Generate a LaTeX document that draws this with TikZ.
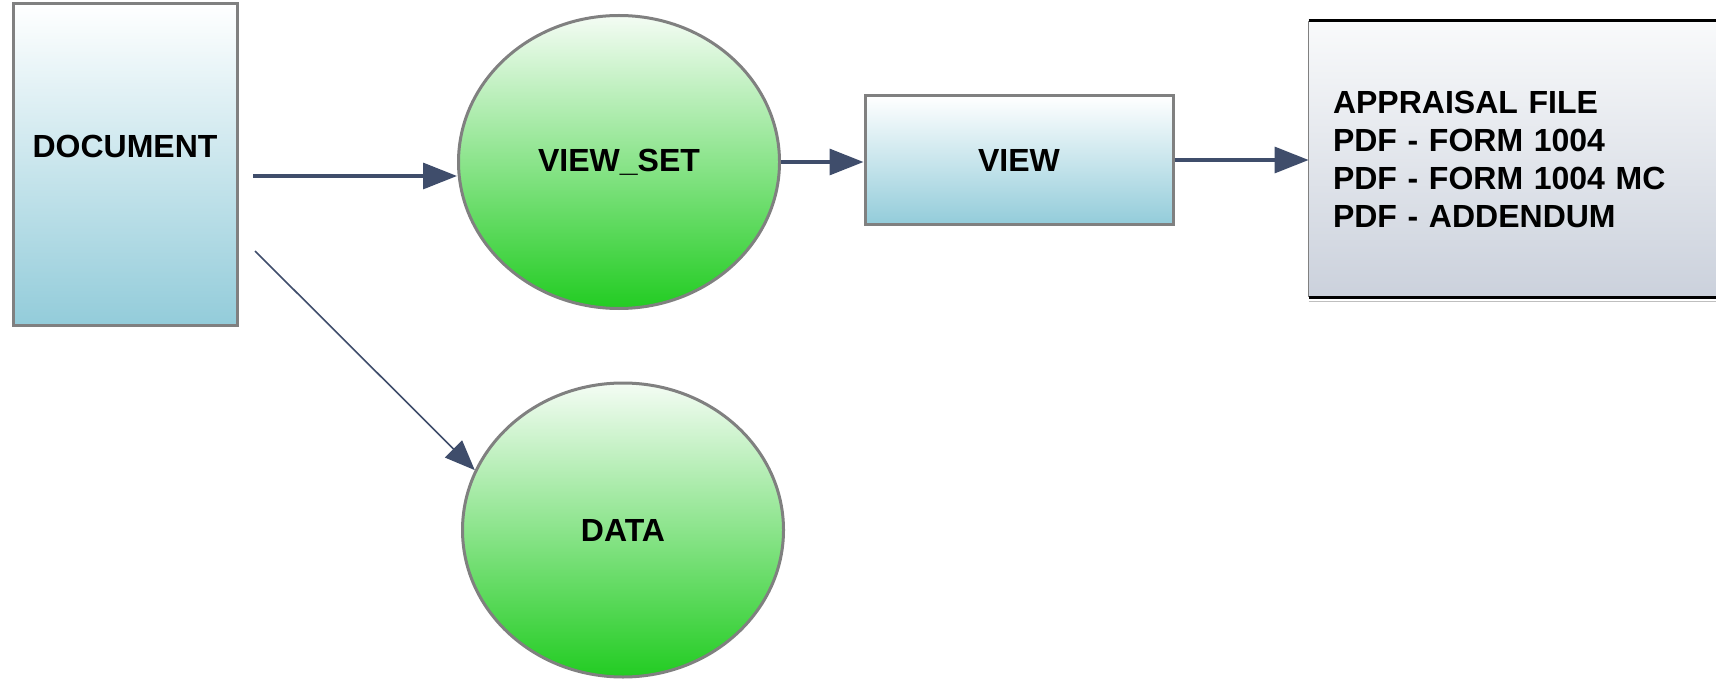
\documentclass[tikz,border=0pt]{standalone}
\usepackage{fontspec}
\setmainfont{Liberation Sans}
\usetikzlibrary{arrows.meta,shapes.geometric}
\definecolor{frame}{HTML}{808080}
\definecolor{arrowc}{HTML}{3F4D6B}
\definecolor{bluebot}{HTML}{93CCDA}
\definecolor{greentop}{HTML}{F4FCF4}
\definecolor{greenbot}{HTML}{22CC22}
\definecolor{greytop}{HTML}{F9FAFB}
\definecolor{greybot}{HTML}{CBD1DC}
\tikzset{
  lbl/.style={font=\fontsize{16}{19}\selectfont\bfseries, text=black},
  bluebox/.style={rectangle, draw=frame, line width=1.5pt, top color=white, bottom color=bluebot, inner sep=0pt, lbl},
  greenball/.style={ellipse, draw=frame, line width=1.5pt, top color=greentop, bottom color=greenbot, inner sep=0pt, lbl},
  store/.style={rectangle, top color=greytop, bottom color=greybot, inner xsep=12pt, inner ysep=0pt, align=left, lbl},
  flow/.style={draw=arrowc, line width=1.6pt, -{Triangle[length=17pt,width=13pt]}},
  thinflow/.style={draw=arrowc, line width=0.8pt, -{Triangle[length=15pt,width=12pt]}}
}
\begin{document}
\begin{tikzpicture}[x=0.5pt, y=-0.5pt]
  \useasboundingbox (0,0) rectangle (1716,679);

  % process boxes
  \node[bluebox, minimum width=112pt, minimum height=160.5pt,
        label={[lbl, yshift=9pt]center:DOCUMENT}] (doc) at (125,164.5) {};
  \node[bluebox, minimum width=154pt, minimum height=64pt] (view) at (1019,160) {VIEW};

  % data stores drawn as ellipses
  \node[greenball, minimum width=160.5pt, minimum height=146.5pt] (vs) at (619,162) {VIEW\_SET};
  \node[greenball, minimum width=160.5pt, minimum height=147pt] (data) at (623,530) {DATA};

  % open-ended output file
  \node[store, text width=186.5pt, minimum height=138pt] (app) at (1519.5,159)
    {APPRAISAL FILE\\PDF - FORM 1004\\PDF - FORM 1004 MC\\PDF - ADDENDUM};
  \draw[frame, line width=0.8pt] (app.north west) -- (app.south west);
  \draw[black!25, line width=0.6pt] ([yshift=-2pt]app.south west) -- ([yshift=-2pt]app.south east);
  \draw[black, line width=1.5pt] (app.north west) -- (app.north east);
  \draw[black, line width=1.5pt] (app.south west) -- (app.south east);

  % connectors
  \coordinate (d1) at (253,176);
  \coordinate (d2) at (255,251);
  \draw[flow] (d1) -- (d1 -| vs.west);
  \draw[thinflow] (d2) -- (data.158);
  \draw[flow] (vs.east) -- (vs.east -| view.west);
  \draw[flow] (view.east) -- (view.east -| app.west);
\end{tikzpicture}
\end{document}
